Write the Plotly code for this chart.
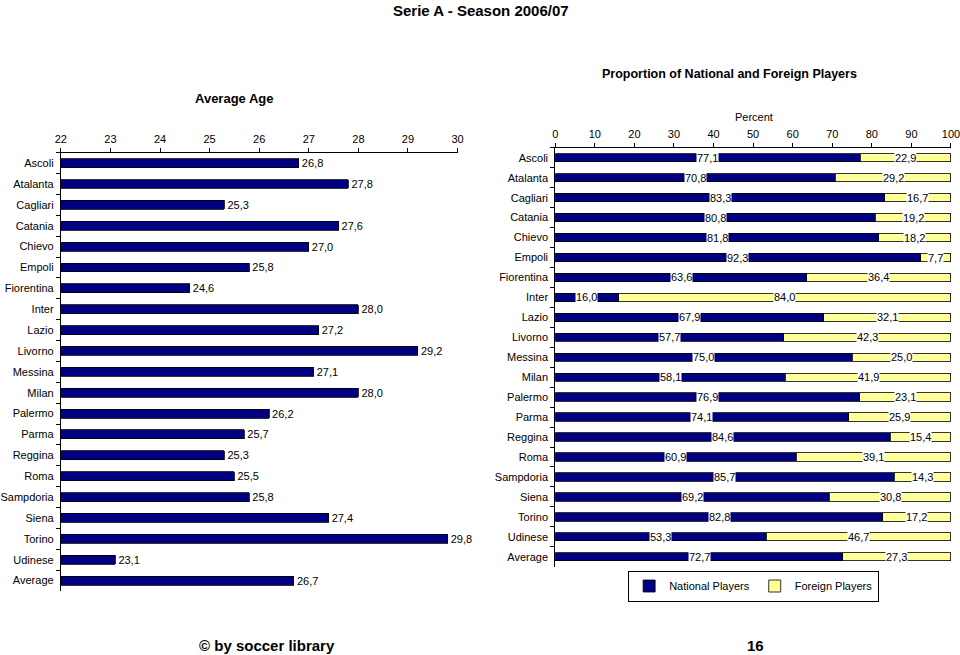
import plotly.graph_objects as go

teams = ["Ascoli", "Atalanta", "Cagliari", "Catania", "Chievo", "Empoli", "Fiorentina",
         "Inter", "Lazio", "Livorno", "Messina", "Milan", "Palermo", "Parma", "Reggina",
         "Roma", "Sampdoria", "Siena", "Torino", "Udinese", "Average"]
avg_age = [26.8, 27.8, 25.3, 27.6, 27.0, 25.8, 24.6, 28.0, 27.2, 29.2, 27.1, 28.0,
           26.2, 25.7, 25.3, 25.5, 25.8, 27.4, 29.8, 23.1, 26.7]
national = [77.1, 70.8, 83.3, 80.8, 81.8, 92.3, 63.6, 16.0, 67.9, 57.7, 75.0, 58.1,
            76.9, 74.1, 84.6, 60.9, 85.7, 69.2, 82.8, 53.3, 72.7]
foreign = [22.9, 29.2, 16.7, 19.2, 18.2, 7.7, 36.4, 84.0, 32.1, 42.3, 25.0, 41.9,
           23.1, 25.9, 15.4, 39.1, 14.3, 30.8, 17.2, 46.7, 27.3]
age_ticks = [22, 23, 24, 25, 26, 27, 28, 29, 30]
pct_ticks = [0, 10, 20, 30, 40, 50, 60, 70, 80, 90, 100]


def fmt(v):
    return f"{v:.1f}".replace(".", ",")


FONT = "Liberation Sans, Arial, sans-serif"
NARROW = "Liberation Sans Narrow, Arial Narrow, Liberation Sans, Arial, sans-serif"
NAVY = "#000080"
YELLOW = "#FFFF99"


def fx(px):
    # horizontal pixel -> paper fraction (calibrated to the rendered page)
    return min(1.0, max(0.0, (px - 3.0) / 948.0))


def fy(py):
    return 1 - py / 655


fig = go.Figure()

fig.add_trace(go.Bar(
    y=teams, x=avg_age, orientation="h", xaxis="x", yaxis="y",
    marker=dict(color=NAVY, line=dict(color="black", width=0.8)),
    width=0.43, text=[fmt(v) for v in avg_age], textposition="outside",
    constraintext="none",
    textfont=dict(size=11, color="black", family=FONT), cliponaxis=False,
    showlegend=False, hoverinfo="skip",
))

fig.add_trace(go.Bar(
    y=teams, x=national, orientation="h", xaxis="x2", yaxis="y2",
    name="National Players",
    marker=dict(color=NAVY, line=dict(color="black", width=0.8)),
    width=0.42, hoverinfo="skip",
))
fig.add_trace(go.Bar(
    y=teams, x=foreign, orientation="h", xaxis="x2", yaxis="y2",
    name="Foreign Players",
    marker=dict(color=YELLOW, line=dict(color="black", width=0.8)),
    width=0.42, hoverinfo="skip",
))

annotations = []
for t, n, f in zip(teams, national, foreign):
    annotations.append(dict(x=n / 2, y=t, xref="x2", yref="y2", text=fmt(n),
                            showarrow=False, bgcolor="white", borderpad=0,
                            xanchor="center", yanchor="middle",
                            font=dict(size=11, color="black", family=FONT)))
    annotations.append(dict(x=n + f / 2, y=t, xref="x2", yref="y2", text=fmt(f),
                            showarrow=False, bgcolor="white", borderpad=0,
                            xanchor="center", yanchor="middle",
                            font=dict(size=11, color="black", family=FONT)))


def paper_text(px, py, text, size, bold=True):
    return dict(x=fx(px), y=fy(py), xref="paper", yref="paper",
                text=f"<b>{text}</b>" if bold else text, showarrow=False,
                xanchor="center", yanchor="middle",
                font=dict(size=size, family=NARROW if bold else FONT, color="black"))


annotations += [
    paper_text(480, 11, "Serie A - Season 2006/07", 15),
    paper_text(232, 99, "Average Age", 13),
    paper_text(729, 74, "Proportion of National and Foreign Players", 12.5),
    paper_text(753, 117, "Percent", 11, bold=False),
    paper_text(265, 645, "© by soccer library", 15),
    paper_text(755, 645, "16", 15),
]

axis_common = dict(showgrid=False, zeroline=False, showline=True, linecolor="black",
                   linewidth=1, ticks="outside", ticklen=4, tickcolor="black",
                   ticklabeloverflow="allow",
                   tickfont=dict(size=11, family=FONT, color="black"))

fig.update_layout(
    width=960, height=655,
    margin=dict(l=0, r=0, t=0, b=0),
    paper_bgcolor="white", plot_bgcolor="white",
    barmode="stack",
    font=dict(family=FONT, size=11, color="black"),
    xaxis=dict(domain=[fx(58), fx(456)], range=[22, 30], side="top",
               tickvals=age_ticks, anchor="y", **axis_common),
    yaxis=dict(domain=[fy(591), fy(152.7)], autorange="reversed",
               tickson="boundaries", anchor="x", ticklabelstandoff=4, **axis_common),
    xaxis2=dict(domain=[fx(554), fx(951)], range=[0, 100], side="top",
                tickvals=pct_ticks, anchor="y2", **axis_common),
    yaxis2=dict(domain=[fy(566.7), fy(147.8)], autorange="reversed",
                tickson="boundaries", anchor="x2", ticklabelstandoff=4, **axis_common),
    legend=dict(orientation="h", x=fx(753), xanchor="center", y=fy(586),
                yanchor="middle", bordercolor="black", borderwidth=1, bgcolor="white",
                font=dict(size=11, family=FONT, color="black"), traceorder="normal",
                itemwidth=30, tracegroupgap=0),
    annotations=annotations,
)

fig.write_html("out.html", config={"displayModeBar": False},
               post_script="document.body.style.margin='0';document.body.style.overflow='hidden';")
